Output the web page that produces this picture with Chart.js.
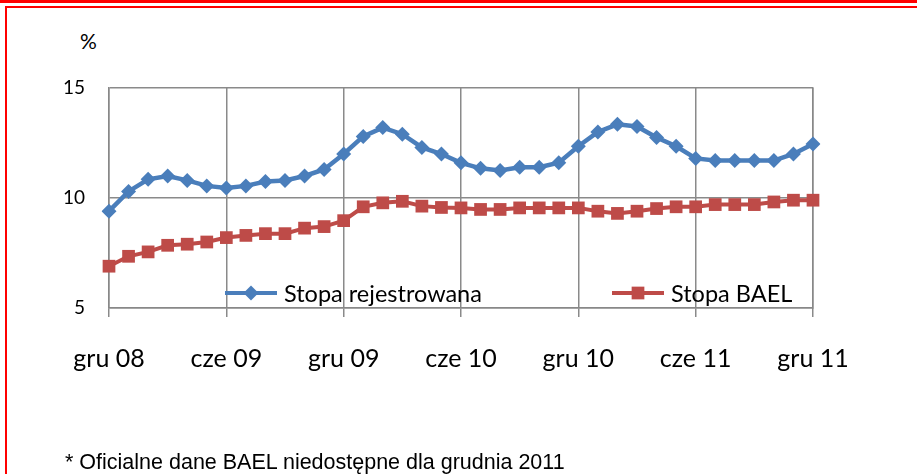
<!DOCTYPE html>
<html>
<head>
<meta charset="utf-8">
<script src="https://cdn.jsdelivr.net/npm/chart.js@4/dist/chart.umd.min.js"></script>
<style>
  html, body { margin: 0; padding: 0; background: #fff; overflow: hidden; }
  #page { position: relative; width: 917px; height: 474px; overflow: hidden; }
  #topbar { position: absolute; left: 0; top: 0; width: 917px; height: 3px; background: #ff0000; }
  #frame { position: absolute; left: 5px; top: 6px; width: 930px; height: 500px;
           border-left: 2px solid #ff0000; border-top: 2px solid #ff0000; }
  #unit { position: absolute; left: 80px; top: 28px; font: 21px Lato, sans-serif; color: #000; }
  #note { position: absolute; left: 65px; top: 450px; font: 21.5px "Liberation Sans", Arial, sans-serif;
          color: #000; white-space: nowrap; }
  #wrap { position: absolute; left: 0; top: 0; width: 917px; height: 474px; }
</style>
</head>
<body>
<div id="page">
  <div id="topbar"></div>
  <div id="frame"></div>
  <div id="unit">%</div>
  <div id="wrap"><canvas id="myChart" width="917" height="474"></canvas></div>
  <div id="note">* Oficialne dane BAEL niedostępne dla grudnia 2011</div>
</div>
<script>
const months = ['gru', 'sty', 'lut', 'mar', 'kwi', 'maj', 'cze', 'lip', 'sie', 'wrz', 'paź', 'lis'];
const years = ['08', '09', '10', '11'];

// miesiące od grudnia 2008 do grudnia 2011
const categories = [];
for (let i = 0; i < 37; i++) {
    const m = i % 12;
    const y = years[Math.floor((i + 11) / 12)];
    categories.push(months[m] + ' ' + y);
}

const stopaRejestrowana = [
    9.4, 10.3, 10.85, 11.0, 10.8, 10.55, 10.45, 10.55, 10.75, 10.8, 11.0, 11.3,
    12.0, 12.8, 13.2, 12.9, 12.3, 12.0, 11.6, 11.35, 11.25, 11.4, 11.4, 11.6,
    12.35, 13.0, 13.35, 13.25, 12.75, 12.35, 11.8, 11.7, 11.7, 11.7, 11.7, 12.0,
    12.45
];

const stopaBAEL = [
    6.9, 7.35, 7.55, 7.85, 7.9, 8.0, 8.2, 8.3, 8.38, 8.38, 8.63, 8.7,
    8.97, 9.6, 9.78, 9.85, 9.63, 9.57, 9.55, 9.48, 9.48, 9.55, 9.55, 9.55,
    9.55, 9.4, 9.3, 9.4, 9.52, 9.6, 9.6, 9.7, 9.7, 9.7, 9.82, 9.9,
    9.9
];

const yTicks = [5, 10, 15];

const legendInside = {
    id: 'legendInside',
    afterDatasetsDraw(chart) {
        const ctx = chart.ctx;
        const items = [
            { ds: chart.data.datasets[0], x: 225, y: 293 },
            { ds: chart.data.datasets[1], x: 612, y: 293 }
        ];
        ctx.save();
        for (const it of items) {
            ctx.strokeStyle = it.ds.borderColor;
            ctx.lineWidth = 4;
            ctx.beginPath();
            ctx.moveTo(it.x, it.y);
            ctx.lineTo(it.x + 52, it.y);
            ctx.stroke();
            ctx.fillStyle = it.ds.pointBackgroundColor;
            Chart.helpers.drawPoint(ctx, {
                pointStyle: it.ds.pointStyle,
                radius: it.ds.pointRadius,
                borderWidth: 0
            }, it.x + 26, it.y);
            ctx.fillStyle = '#000';
            ctx.font = '23.5px Lato, sans-serif';
            ctx.textBaseline = 'middle';
            ctx.fillText(it.ds.label, it.x + 59, it.y + 1);
        }
        ctx.restore();
    }
};

const ctx = document.getElementById('myChart').getContext('2d');
const chart = new Chart(ctx, {
    type: 'line',
    data: {
        labels: categories,
        datasets: [{
            label: 'Stopa rejestrowana',
            data: stopaRejestrowana,
            borderColor: '#4a7ebb',
            backgroundColor: '#4a7ebb',
            pointBackgroundColor: '#4a7ebb',
            pointBorderWidth: 0,
            pointStyle: 'rectRot',
            pointRadius: 7.5,
            borderWidth: 4.5,
            tension: 0
        }, {
            label: 'Stopa BAEL',
            data: stopaBAEL,
            borderColor: '#be4b48',
            backgroundColor: '#be4b48',
            pointBackgroundColor: '#be4b48',
            pointBorderWidth: 0,
            pointStyle: 'rect',
            pointRadius: 9,
            borderWidth: 4,
            tension: 0
        }]
    },
    options: {
        responsive: false,
        animation: false,
        layout: { padding: { left: 0, right: 104, top: 88, bottom: 86 } },
        plugins: {
            legend: { display: false },
            tooltip: { enabled: false }
        },
        scales: {
            x: {
                offset: false,
                border: { color: '#888', width: 1.5 },
                grid: {
                    color: (c) => (c.index % 6 === 0 ? '#8a8a8a' : 'rgba(0,0,0,0)'),
                    lineWidth: 1.5,
                    tickLength: 9
                },
                ticks: {
                    autoSkip: false,
                    maxRotation: 0,
                    padding: 27,
                    color: '#000',
                    font: { family: 'Lato', size: 25 },
                    callback: (v, i) => (i % 6 === 0 ? categories[i] : '')
                },
                afterFit: (s) => { s.height = 80; }
            },
            y: {
                min: 5,
                max: 15,
                border: { color: '#888', width: 1.5 },
                grid: { color: '#8a8a8a', lineWidth: 1.5, drawTicks: false },
                afterBuildTicks: (s) => { s.ticks = yTicks.map(v => ({ value: v })); },
                ticks: {
                    padding: 24,
                    color: '#000',
                    font: { family: 'Lato', size: 19 }
                },
                afterFit: (s) => { s.width = 109; }
            },
            y2: {
                position: 'right',
                min: 5,
                max: 15,
                grid: { display: false },
                ticks: { display: false },
                border: { color: '#888', width: 1.5 },
                afterFit: (s) => { s.width = 0; }
            }
        }
    },
    plugins: [legendInside]
});
</script>
</body>
</html>
